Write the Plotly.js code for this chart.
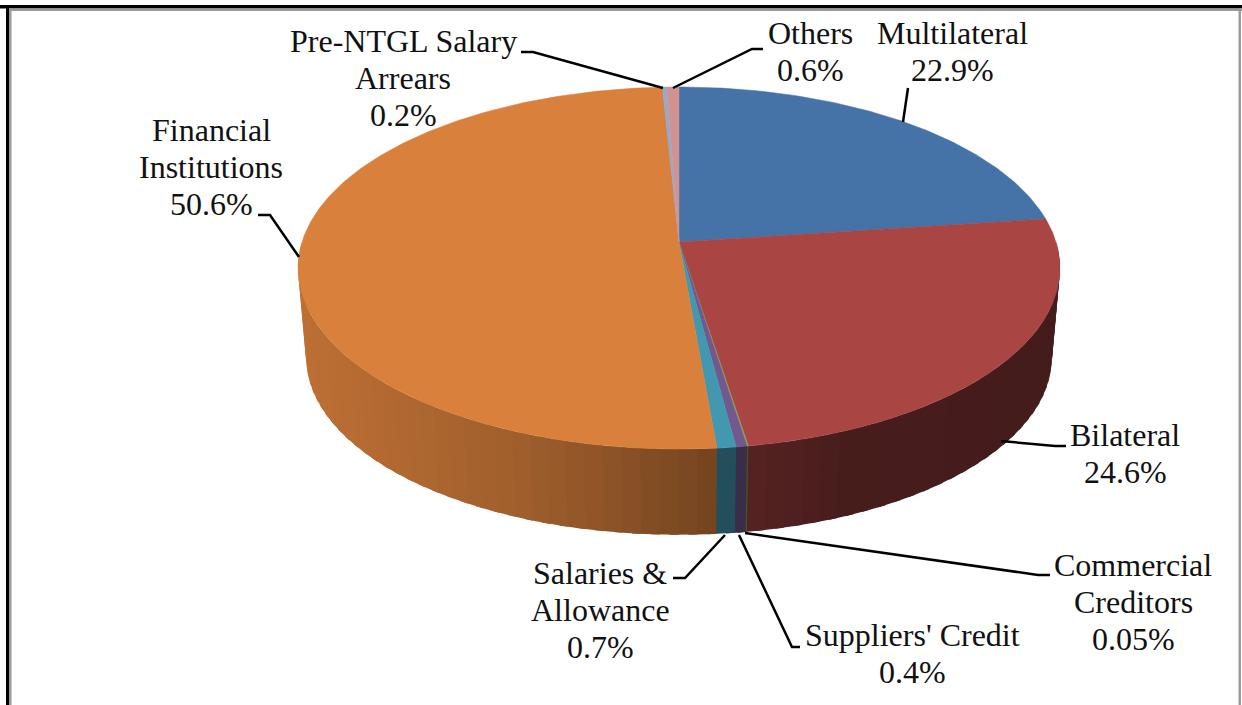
<!DOCTYPE html>
<html>
<head>
<meta charset="utf-8">
<script src="https://cdn.plot.ly/plotly-3.0.1.min.js"></script>
<style>html,body{margin:0;padding:0;background:#fff;overflow:hidden}#chart{width:1242px;height:705px}</style>
</head>
<body>
<div id="chart"></div>
<script>
// ---- chart values ----
var categories = ["Multilateral", "Bilateral", "Commercial Creditors", "Suppliers' Credit",
  "Salaries & Allowance", "Financial Institutions", "Pre-NTGL Salary Arrears", "Others"];
var shares = [22.9, 24.6, 0.05, 0.4, 0.7, 50.6, 0.2, 0.6];
var percentLabels = ["22.9%", "24.6%", "0.05%", "0.4%", "0.7%", "50.6%", "0.2%", "0.6%"];
var nameLines = [["Multilateral"], ["Bilateral"], ["Commercial", "Creditors"], ["Suppliers' Credit"],
  ["Salaries &", "Allowance"], ["Financial", "Institutions"], ["Pre-NTGL Salary", "Arrears"], ["Others"]];
var colors = ["#4572A7", "#A94543", "#89A54E", "#71588F", "#4198AF", "#D9803C", "#93A9CF", "#D19392"];

// ---- layout / geometry of the perspective disc ----
var TOP = {cx: 679, cy: 242, R: 377, S: 177.3};
var BASE = {cx: 679, cy: 332, R: 369, S: 173.7};
var K = 0.1436;
var shadeX = [300, 500, 600, 717, 850, 1060];
var shadeF = [0.87, 0.75, 0.66, 0.53, 0.42, 0.40];
var labelX = [952, 1125, 1133, 912, 600, 211, 403, 810];
var labelY = [32.6, 434.6, 564.6, 634.6, 572.6, 129.6, 40.6, 32.6];
var LINE_H = 37;
var leaders = [
  [[908,88],[903,122]],
  [[1001,441],[1055,446],[1066,446]],
  [[745,533],[1038,575],[1050,575]],
  [[739,535],[792,647],[800,647]],
  [[725,535],[685,578],[673,578]],
  [[299,257],[270,215],[258,215]],
  [[663,88],[533,52],[521,52]],
  [[673,88],[752,49],[763,49]]
];

function project(g, deg) {
  var a = deg * Math.PI / 180, u = Math.sin(a), v = -Math.cos(a), d = 1 - K * v;
  return [g.cx + g.R * u / d, g.cy + g.S * v / d];
}
function hexRgb(h) { return [1,3,5].map(function(i){ return parseInt(h.substr(i,2),16); }); }
function shade(hex, x) {
  var f = shadeF[shadeF.length-1];
  if (x <= shadeX[0]) f = shadeF[0];
  else for (var i = 0; i < shadeX.length-1; i++) {
    if (x >= shadeX[i] && x <= shadeX[i+1]) {
      f = shadeF[i] + (shadeF[i+1]-shadeF[i])*(x-shadeX[i])/(shadeX[i+1]-shadeX[i]); break;
    }
  }
  var c = hexRgb(hex);
  return "rgb(" + c.map(function(v){ return Math.round(v*f); }).join(",") + ")";
}

var total = shares.reduce(function(a,b){return a+b;},0);
var startDeg = [], endDeg = [], acc = 0;
shares.forEach(function(s){ startDeg.push(acc/total*360); acc += s; endDeg.push(acc/total*360); });

var traces = [];
function poly(xs, ys, color, name, lw) {
  traces.push({type:"scatter", mode:"lines", x:xs, y:ys, fill:"toself", fillcolor:color,
    line:{color:color, width:lw}, name:name, hoverinfo:"name", showlegend:false});
}

// side wall, front half only: each facet runs under the next one, so no seams show
var STEP = 2.5, OVERLAP = 1.2, walls = [];
shares.forEach(function(s,i){
  var a0 = Math.max(startDeg[i], 90), a1 = Math.min(endDeg[i], 270);
  if (a1 <= a0) return;
  var n = Math.max(1, Math.round((a1-a0)/STEP));
  for (var k = 0; k < n; k++) {
    walls.push({p:a0+(a1-a0)*k/n, q:a0+(a1-a0)*(k+1)/n, i:i});
  }
});
walls.sort(function(a,b){ return a.p - b.p; });
walls.forEach(function(w){
  var q = Math.min(w.q + OVERLAP, 270);
  var t0 = project(TOP,w.p), t1 = project(TOP,q), b1 = project(BASE,q), b0 = project(BASE,w.p);
  var tm = project(TOP,(w.p+w.q)/2);
  poly([t0[0],t1[0],b1[0],b0[0],t0[0]], [t0[1],t1[1],b1[1],b0[1],t0[1]],
    shade(colors[w.i], tm[0]), categories[w.i], 0);
});

// top face
shares.forEach(function(s,i){
  var xs = [TOP.cx], ys = [TOP.cy];
  var n = Math.max(2, Math.ceil((endDeg[i]-startDeg[i])/0.75));
  for (var k = 0; k <= n; k++) {
    var pt = project(TOP, startDeg[i] + (endDeg[i]-startDeg[i])*k/n);
    xs.push(pt[0]); ys.push(pt[1]);
  }
  xs.push(TOP.cx); ys.push(TOP.cy);
  poly(xs, ys, colors[i], categories[i], 0.5);
});

// labels
var annotations = [];
nameLines.forEach(function(lines,i){
  lines.concat([percentLabels[i]]).forEach(function(txt,j){
    annotations.push({x:labelX[i], y:labelY[i]+j*LINE_H, xref:"x", yref:"y", text:txt, showarrow:false,
      xanchor:"center", yanchor:"middle", font:{family:"Liberation Serif, Times New Roman, serif", size:32, color:"#111"}});
  });
});

var shapes = leaders.map(function(l){
  return {type:"path", xref:"x", yref:"y", layer:"above",
    path:"M"+l.map(function(p){return p[0]+","+p[1];}).join(" L"),
    line:{color:"#000", width:2.5}};
});
function rect(x0,y0,x1,y1,c){ return {type:"rect",xref:"x",yref:"y",x0:x0,y0:y0,x1:x1,y1:y1,fillcolor:c,line:{width:0},layer:"above"}; }
shapes.push(rect(0,5,1242,8.5,"#000"), rect(6,5,9,705,"#000"),
            rect(9,8.5,1242,11,"#9a9a9a"), rect(9,8.5,11.5,705,"#9a9a9a"), rect(1238.5,8.5,1241,705,"#9a9a9a"));

Plotly.newPlot("chart", traces, {
  width:1242, height:705, margin:{l:0,r:0,t:0,b:0,pad:0}, showlegend:false,
  paper_bgcolor:"#fff", plot_bgcolor:"#fff",
  xaxis:{range:[0,1242], visible:false, fixedrange:true},
  yaxis:{range:[705,0], visible:false, fixedrange:true},
  annotations:annotations, shapes:shapes
}, {displayModeBar:false, staticPlot:true});
</script>
</body>
</html>
